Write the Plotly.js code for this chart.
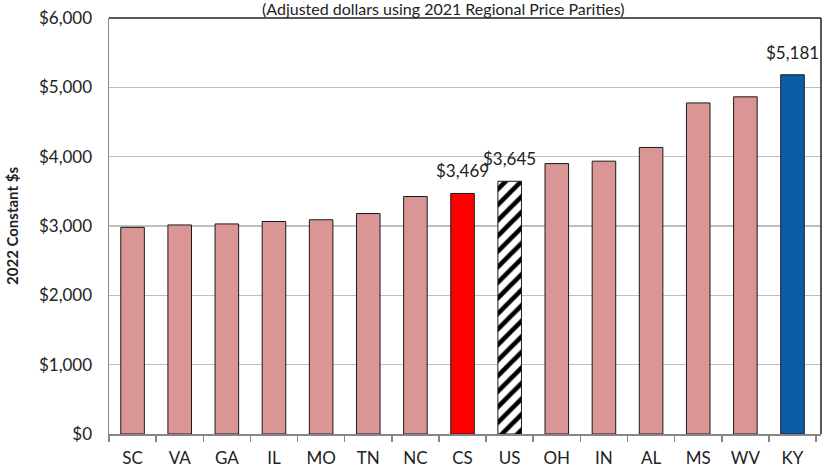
<!DOCTYPE html>
<html>
<head>
<meta charset="utf-8">
<script src="https://cdn.plot.ly/plotly-3.0.1.min.js"></script>
<style>html,body{margin:0;padding:0;background:#fff;}#chart{width:826px;height:470px;}</style>
</head>
<body>
<div id="chart"></div>
<script>
// Data
const categories = ["SC","VA","GA","IL","MO","TN","NC","CS","US","OH","IN","AL","MS","WV","KY"];
const values = [2980, 3015, 3030, 3065, 3090, 3180, 3425, 3469, 3645, 3900, 3935, 4133, 4775, 4863, 5181];
const labeledCategories = ["CS","US","KY"];
const hatchedCategories = ["US"];
const subtitle = "(Adjusted dollars using 2021 Regional Price Parities)";
const yTitle = "2022 Constant $s";

const FONT = "Lato, 'Open Sans', sans-serif";
const baseColor = "#D99694";
const specialColors = {CS: "#FF0000", KY: "#0B5DA8"};

const solidIdx = categories.map((c, i) => i).filter(i => !hatchedCategories.includes(categories[i]));
const hatchIdx = categories.map((c, i) => i).filter(i => hatchedCategories.includes(categories[i]));

const solidTrace = {
  type: "bar",
  x: solidIdx.map(i => categories[i]),
  y: solidIdx.map(i => values[i]),
  marker: {
    color: solidIdx.map(i => specialColors[categories[i]] || baseColor),
    line: {color: "#1a1a1a", width: 1}
  },
  hoverinfo: "x+y"
};
const hatchTrace = {
  type: "bar",
  x: hatchIdx.map(i => categories[i]),
  y: hatchIdx.map(i => values[i]),
  marker: {
    color: "#000000",
    line: {color: "#1a1a1a", width: 1},
    pattern: {shape: "/", fgcolor: "#000000", bgcolor: "#FFFFFF", size: 11, solidity: 0.42, fillmode: "replace"}
  },
  hoverinfo: "x+y"
};

const fmt = v => "$" + v.toLocaleString("en-US");
const annotations = labeledCategories.map(c => {
  const i = categories.indexOf(c);
  return {
    x: c, y: values[i], xref: "x", yref: "y",
    text: fmt(values[i]), showarrow: false,
    yanchor: "bottom", yshift: 10,
    font: {family: FONT, size: 17, color: "#222"}
  };
});
annotations.push({
  x: 0.47, y: 1, xref: "paper", yref: "paper",
  text: subtitle, showarrow: false, yanchor: "bottom", yshift: -2,
  font: {family: FONT, size: 16, color: "#222"}
});

const layout = {
  width: 826, height: 470,
  margin: {l: 109, r: 5, t: 18, b: 36},
  paper_bgcolor: "#fff", plot_bgcolor: "#fff",
  font: {family: FONT, color: "#222"},
  showlegend: false,
  barmode: "overlay",
  bargap: 0.5,
  xaxis: {
    type: "category", categoryorder: "array", categoryarray: categories,
    showline: true, linecolor: "#868686", linewidth: 1.5,
    ticks: "outside", tickson: "boundaries", ticklen: 6, tickcolor: "#868686", tickwidth: 1.5,
    ticklabelstandoff: 8,
    tickfont: {family: FONT, size: 17, color: "#222"},
    showgrid: false, zeroline: false, fixedrange: true
  },
  yaxis: {
    range: [0, 6000], dtick: 1000, tickprefix: "$", tickformat: ",d",
    showgrid: true, gridcolor: "#BFBFBF", gridwidth: 1.5,
    showline: true, linecolor: "#868686", linewidth: 1.5,
    ticks: "", zeroline: false, ticklabelstandoff: 12,
    tickfont: {family: FONT, size: 17, color: "#222"},
    title: {text: "<b>" + yTitle + "</b>", font: {family: FONT, size: 15, color: "#222"}, standoff: 16},
    fixedrange: true
  },
  shapes: [
    {type: "line", xref: "paper", yref: "paper", x0: 0, x1: 1, y0: 1, y1: 1, line: {color: "#222", width: 1.5}},
    {type: "line", xref: "paper", yref: "paper", x0: 1, x1: 1, y0: 0, y1: 1, line: {color: "#222", width: 1.5}}
  ],
  annotations: annotations
};

Plotly.newPlot("chart", [solidTrace, hatchTrace], layout, {displayModeBar: false, staticPlot: true});
</script>
</body>
</html>
